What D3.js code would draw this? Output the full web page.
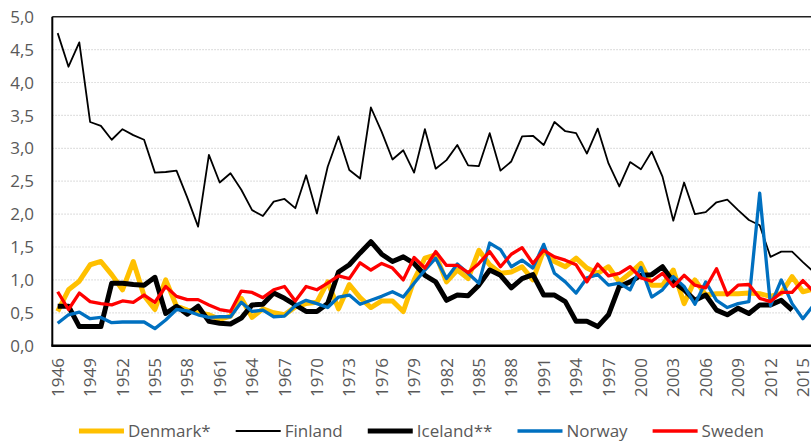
<!DOCTYPE html>
<html><head><meta charset="utf-8">
<script src="https://cdn.jsdelivr.net/npm/d3@7"></script>
<style>body{margin:0;background:#fff}svg{display:block}text{font-family:"Open Sans",sans-serif;fill:#595959}</style>
</head><body><svg id="c" width="811" height="441"></svg>
<script>
const years = d3.range(1946, 2017);
const yTicks = [0, 0.5, 1, 1.5, 2, 2.5, 3, 3.5, 4, 4.5, 5];
const xTickYears = d3.range(1946, 2017, 3);
const seriesNames = ["Denmark*", "Finland", "Iceland**", "Norway", "Sweden"];
const denmark = [0.52,0.85,0.98,1.23,1.28,1.08,0.85,1.28,0.76,0.55,1.0,0.6,0.54,0.5,0.47,0.4,0.45,0.72,0.43,0.56,0.5,0.47,0.59,0.64,0.66,0.97,0.56,0.93,0.73,0.58,0.68,0.68,0.52,1.0,1.33,1.38,0.97,1.15,1.02,1.45,1.23,1.1,1.12,1.2,1.0,1.45,1.28,1.2,1.33,1.18,1.1,1.2,0.97,1.1,1.25,0.92,0.92,1.15,0.64,1.0,0.77,0.79,0.79,0.79,0.8,0.79,0.75,0.8,1.05,0.82,0.86];
const finland = [4.75,4.24,4.61,3.40,3.34,3.13,3.29,3.20,3.13,2.63,2.64,2.66,2.25,1.81,2.90,2.48,2.62,2.37,2.06,1.97,2.19,2.23,2.09,2.59,2.01,2.72,3.18,2.67,2.54,3.62,3.25,2.83,2.97,2.63,3.29,2.69,2.82,3.05,2.74,2.73,3.23,2.66,2.80,3.18,3.19,3.05,3.40,3.26,3.23,2.92,3.30,2.77,2.42,2.79,2.68,2.95,2.57,1.90,2.48,2.00,2.03,2.18,2.22,2.06,1.91,1.83,1.35,1.43,1.43,1.27,1.12];
const iceland = [0.6,0.6,0.29,0.29,0.29,0.95,0.95,0.93,0.92,1.04,0.49,0.6,0.48,0.6,0.37,0.34,0.33,0.42,0.62,0.63,0.8,0.72,0.62,0.52,0.52,0.64,1.12,1.23,1.41,1.58,1.39,1.28,1.35,1.25,1.07,0.97,0.69,0.77,0.76,0.92,1.15,1.07,0.88,1.02,1.08,0.77,0.77,0.67,0.37,0.37,0.29,0.47,0.9,0.97,1.07,1.08,1.2,0.97,0.85,0.69,0.77,0.54,0.47,0.57,0.49,0.62,0.62,0.69,0.54,null,null];
const norway = [0.34,0.47,0.51,0.41,0.43,0.35,0.36,0.36,0.36,0.26,0.39,0.55,0.53,0.47,0.43,0.44,0.44,0.66,0.52,0.54,0.44,0.45,0.61,0.69,0.64,0.58,0.74,0.77,0.63,0.69,0.75,0.82,0.74,0.95,1.15,1.33,1.02,1.24,1.1,0.95,1.56,1.46,1.2,1.3,1.18,1.54,1.1,0.97,0.8,1.03,1.08,0.92,0.95,0.85,1.19,0.74,0.85,1.05,0.9,0.63,0.97,0.69,0.58,0.64,0.67,2.32,0.61,1.0,0.64,0.41,0.62];
const sweden = [0.82,0.55,0.8,0.67,0.64,0.62,0.68,0.66,0.77,0.66,0.9,0.75,0.7,0.7,0.62,0.55,0.52,0.83,0.81,0.73,0.85,0.9,0.68,0.9,0.85,0.95,1.06,1.02,1.26,1.15,1.25,1.18,1.0,1.34,1.18,1.43,1.22,1.22,1.11,1.25,1.43,1.2,1.39,1.49,1.25,1.45,1.35,1.3,1.23,0.97,1.24,1.06,1.1,1.2,1.03,0.98,1.1,0.9,1.07,0.92,0.88,1.17,0.77,0.92,0.93,0.72,0.67,0.81,0.81,0.99,0.82];

const seriesValues = [denmark, finland, iceland, norway, sweden];
const colors = ["#FFC000", "#000000", "#000000", "#0070C0", "#FF0000"];
const widths = [5, 1.8, 5, 3.3, 3.3];

const svg = d3.select("#c");
const pLeft = 52.3, pTop = 16.7, pBottom = 345.7, pRight = 52.3 + 71 * 10.8;
const x = d3.scalePoint().domain(years).range([pLeft, pRight]).padding(0.5);
const y = d3.scaleLinear().domain([0, 5]).range([pBottom, pTop]);

svg.append("g").selectAll("line").data(yTicks.filter(t => t > 0 && t < 5)).join("line")
  .attr("x1", pLeft).attr("x2", 811).attr("y1", d => y(d)).attr("y2", d => y(d))
  .attr("stroke", "#D9D9D9").attr("stroke-width", 1.2).attr("stroke-dasharray", "1.5,1.5");

svg.append("line").attr("x1", pLeft).attr("x2", 811).attr("y1", y(5)).attr("y2", y(5))
  .attr("stroke", "#222").attr("stroke-width", 1.5);

const line = d3.line().defined(d => d[1] != null).x(d => x(d[0])).y(d => y(d[1]));
seriesValues.forEach((vals, i) => {
  svg.append("path").datum(years.map((yr, k) => [yr, vals[k]]))
    .attr("d", line).attr("fill", "none").attr("stroke", colors[i])
    .attr("stroke-width", widths[i]).attr("stroke-linejoin", "round").attr("stroke-linecap", "butt");
});

svg.append("line").attr("x1", pLeft).attr("x2", pLeft).attr("y1", pTop).attr("y2", pBottom)
  .attr("stroke", "#000").attr("stroke-width", 2);
svg.append("line").attr("x1", pLeft - 1).attr("x2", 811).attr("y1", pBottom).attr("y2", pBottom)
  .attr("stroke", "#000").attr("stroke-width", 2.5);

const fmt = d => d3.format(".1f")(d).replace(".", ",");
svg.append("g").selectAll("text").data(yTicks).join("text")
  .attr("x", 34).attr("y", d => y(d)).attr("dy", "0.36em").attr("text-anchor", "end")
  .style("font-size", "17px").text(fmt);

svg.append("g").selectAll("text").data(xTickYears).join("text")
  .attr("transform", d => `translate(${x(d)},358) rotate(-90)`)
  .attr("dy", "0.36em").attr("text-anchor", "end").style("font-size", "17px").text(d => d);

const lg = svg.append("g");
const items = [];
seriesNames.forEach((n, i) => {
  const g = lg.append("g");
  g.append("line").attr("x1", 0).attr("x2", 45).attr("y1", 0).attr("y2", 0)
    .attr("stroke", colors[i]).attr("stroke-width", widths[i]);
  const t = g.append("text").attr("x", 49).attr("dy", "0.36em").style("font-size", "17px").text(n);
  items.push({g, w: 49 + t.node().getComputedTextLength()});
});
let total = d3.sum(items, d => d.w) + 25 * (items.length - 1);
let cx = 421.5 - total / 2;
items.forEach(it => { it.g.attr("transform", `translate(${cx},431)`); cx += it.w + 25; });
</script></body></html>
